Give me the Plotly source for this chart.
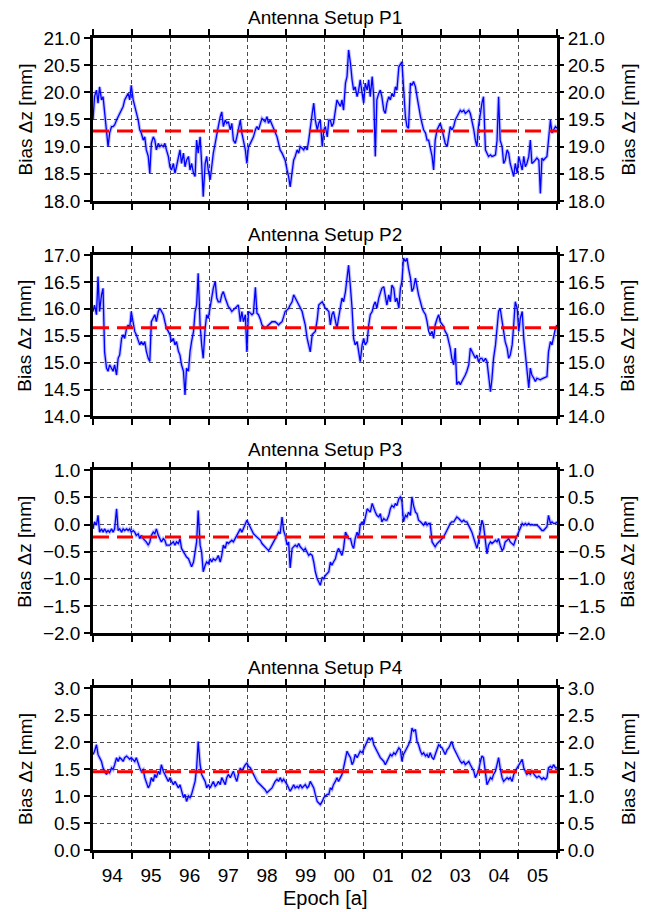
import numpy as np
import pandas as pd
import plotly.graph_objects as go

# Sampling epochs (decimal years): first half and second half of the record
EPOCH_A = [1994.00, 1994.04, 1994.09, 1994.13, 1994.17, 1994.22, 1994.26, 1994.30, 1994.35, 1994.39,
           1994.43, 1994.48, 1994.52, 1994.56, 1994.61, 1994.65, 1994.69, 1994.74, 1994.78, 1994.82,
           1994.87, 1994.91, 1994.95, 1994.99, 1995.04, 1995.08, 1995.12, 1995.17, 1995.21, 1995.25,
           1995.30, 1995.34, 1995.38, 1995.43, 1995.47, 1995.51, 1995.56, 1995.60, 1995.64, 1995.69,
           1995.73, 1995.77, 1995.82, 1995.86, 1995.90, 1995.95, 1995.99, 1996.03, 1996.08, 1996.12,
           1996.16, 1996.21, 1996.25, 1996.29, 1996.34, 1996.38, 1996.42, 1996.47, 1996.51, 1996.55,
           1996.60, 1996.64, 1996.68, 1996.72, 1996.77, 1996.81, 1996.85, 1996.90, 1996.94, 1996.98,
           1997.03, 1997.07, 1997.11, 1997.16, 1997.20, 1997.24, 1997.29, 1997.33, 1997.37, 1997.42,
           1997.46, 1997.50, 1997.55, 1997.59, 1997.63, 1997.68, 1997.72, 1997.76, 1997.81, 1997.85,
           1997.89, 1997.94, 1997.98, 1998.02, 1998.07, 1998.11, 1998.15, 1998.20, 1998.24, 1998.28,
           1998.33, 1998.37, 1998.41, 1998.45, 1998.50, 1998.54, 1998.58, 1998.63, 1998.67, 1998.71,
           1998.76, 1998.80, 1998.84, 1998.89, 1998.93, 1998.97, 1999.02, 1999.06, 1999.10, 1999.15,
           1999.19, 1999.23, 1999.28, 1999.32, 1999.36, 1999.41, 1999.45, 1999.49, 1999.54, 1999.58,
           1999.62, 1999.67, 1999.71, 1999.75, 1999.80, 1999.84, 1999.88, 1999.93, 1999.97, 2000.01,
           2000.06, 2000.10]

EPOCH_B = [2000.14, 2000.18, 2000.22, 2000.27, 2000.31, 2000.35, 2000.40, 2000.44, 2000.48, 2000.53,
           2000.57, 2000.61, 2000.66, 2000.70, 2000.74, 2000.78, 2000.83, 2000.87, 2000.91, 2000.96,
           2001.00, 2001.04, 2001.09, 2001.13, 2001.17, 2001.22, 2001.26, 2001.30, 2001.34, 2001.39,
           2001.43, 2001.47, 2001.52, 2001.56, 2001.60, 2001.65, 2001.69, 2001.73, 2001.78, 2001.82,
           2001.86, 2001.91, 2001.95, 2001.99, 2002.03, 2002.08, 2002.12, 2002.16, 2002.21, 2002.25,
           2002.29, 2002.34, 2002.38, 2002.42, 2002.47, 2002.51, 2002.55, 2002.60, 2002.64, 2002.68,
           2002.72, 2002.77, 2002.81, 2002.85, 2002.90, 2002.94, 2002.98, 2003.03, 2003.07, 2003.11,
           2003.16, 2003.20, 2003.24, 2003.28, 2003.33, 2003.37, 2003.41, 2003.46, 2003.50, 2003.54,
           2003.59, 2003.63, 2003.67, 2003.72, 2003.76, 2003.80, 2003.85, 2003.89, 2003.93, 2003.97,
           2004.02, 2004.06, 2004.10, 2004.15, 2004.19, 2004.23, 2004.28, 2004.32, 2004.36, 2004.41,
           2004.45, 2004.49, 2004.53, 2004.58, 2004.62, 2004.66, 2004.71, 2004.75, 2004.79, 2004.84,
           2004.88, 2004.92, 2004.97, 2005.01, 2005.05, 2005.10, 2005.14, 2005.18, 2005.22, 2005.27,
           2005.31, 2005.35, 2005.40, 2005.44, 2005.48, 2005.53, 2005.57, 2005.61, 2005.65, 2005.70,
           2005.74, 2005.78, 2005.83, 2005.87, 2005.91, 2005.96, 2006.00]

# Bias Δz [mm] per antenna setup
P1_A = [19.50, 19.92, 20.04, 19.80, 20.10, 19.86, 19.92, 19.61, 19.18, 19.00,
        19.25, 19.37, 19.37, 19.40, 19.49, 19.55, 19.61, 19.67, 19.74, 19.86,
        19.92, 19.98, 19.86, 20.13, 19.86, 19.74, 19.67, 19.49, 19.31, 19.25,
        19.12, 19.18, 18.94, 18.82, 18.51, 19.06, 19.18, 19.12, 18.94, 19.06,
        19.00, 19.03, 19.00, 19.06, 18.94, 18.82, 18.63, 18.57, 18.69, 18.51,
        18.63, 18.82, 18.94, 18.69, 18.88, 18.63, 18.75, 18.82, 18.57, 18.69,
        18.51, 18.45, 19.12, 18.88, 19.18, 18.69, 18.08, 18.69, 18.82, 18.57,
        18.39, 18.63, 18.88, 19.06, 19.25, 19.37, 19.55, 19.64, 19.37, 19.49,
        19.43, 19.46, 19.31, 19.43, 19.12, 19.06, 19.18, 19.31, 19.49, 19.25,
        19.12, 18.94, 18.69, 19.00, 19.06, 19.12, 19.18, 19.31, 19.37, 19.31,
        19.43, 19.52, 19.49, 19.46, 19.55, 19.43, 19.49, 19.40, 19.31, 19.25,
        19.18, 19.06, 18.94, 18.88, 18.82, 18.75, 18.57, 18.45, 18.26, 18.57,
        18.75, 18.82, 18.94, 18.88, 19.00, 18.97, 18.94, 19.00, 18.94, 19.12,
        19.37, 19.61, 19.80, 19.49, 19.31, 19.43, 19.49, 19.00, 19.31, 19.37,
        19.18, 19.49]
P1_B = [19.49, 19.37, 19.43, 19.67, 19.86, 19.80, 19.74, 19.86, 19.67, 20.17,
        20.29, 20.78, 20.53, 20.23, 20.04, 20.10, 19.92, 20.04, 20.23, 19.98,
        19.80, 20.17, 20.04, 20.23, 19.92, 20.29, 19.92, 18.82, 19.86, 19.98,
        20.04, 19.92, 19.67, 19.61, 19.80, 19.92, 19.86, 19.98, 19.92, 20.10,
        20.04, 20.47, 20.53, 20.56, 20.10, 19.55, 19.37, 19.34, 20.17, 20.13,
        20.20, 20.10, 19.92, 19.74, 19.55, 19.43, 19.31, 19.25, 19.12, 19.12,
        19.00, 18.82, 18.57, 19.12, 19.31, 19.37, 19.43, 19.31, 19.18, 19.06,
        19.00, 19.18, 19.37, 19.31, 19.37, 19.49, 19.55, 19.61, 19.67, 19.64,
        19.67, 19.61, 19.64, 19.67, 19.61, 19.49, 19.31, 19.12, 19.00, 19.37,
        19.67, 19.80, 19.92, 18.94, 18.88, 18.82, 18.85, 18.82, 18.83, 18.85,
        19.12, 19.92, 19.12, 19.00, 18.69, 18.75, 18.94, 18.88, 18.69, 18.57,
        18.45, 18.69, 18.51, 18.82, 18.69, 18.57, 18.82, 18.63, 18.69, 18.82,
        19.12, 18.69, 18.72, 18.75, 18.79, 18.75, 18.14, 18.79, 18.75, 18.79,
        18.82, 19.12, 19.49, 19.25, 19.31, 19.37, 19.34]

P2_A = [15.95, 16.07, 15.89, 16.60, 15.95, 16.26, 16.38, 15.20, 14.90, 14.84,
        14.96, 14.90, 14.84, 14.96, 14.77, 15.08, 15.14, 15.45, 15.52, 15.45,
        15.64, 15.70, 15.64, 15.95, 15.76, 15.58, 15.52, 15.39, 15.33, 15.39,
        15.33, 15.39, 15.21, 15.08, 15.02, 15.76, 15.82, 15.89, 15.76, 15.95,
        16.01, 15.95, 15.89, 15.76, 15.64, 15.58, 15.52, 15.39, 15.45, 15.33,
        15.39, 15.21, 15.14, 14.96, 14.84, 14.40, 14.90, 14.84, 15.21, 15.39,
        15.58, 15.95, 16.07, 16.66, 15.70, 15.33, 15.08, 15.64, 15.89, 15.82,
        16.07, 16.20, 16.38, 16.51, 16.20, 16.13, 16.13, 16.26, 16.32, 16.20,
        16.13, 16.04, 16.00, 15.95, 15.98, 16.01, 16.04, 16.07, 15.76, 15.95,
        15.76, 15.89, 15.20, 15.95, 15.92, 15.89, 15.92, 16.40, 15.92, 15.89,
        15.80, 15.70, 15.67, 15.64, 15.67, 15.70, 15.73, 15.76, 15.76, 15.76,
        15.73, 15.70, 15.73, 15.76, 15.85, 15.95, 15.98, 16.01, 16.07, 16.13,
        16.26, 16.20, 16.13, 16.07, 16.01, 15.95, 15.82, 15.70, 15.45, 15.33,
        15.20, 15.52, 15.55, 15.58, 15.80, 16.07, 16.10, 16.13, 16.07, 16.01,
        15.98, 15.95]
P2_B = [15.70, 15.89, 15.95, 15.76, 15.64, 15.82, 16.01, 16.20, 16.13, 16.32,
        16.57, 16.81, 16.38, 16.01, 15.45, 15.33, 15.39, 15.21, 15.02, 15.33,
        15.45, 15.33, 15.39, 15.70, 15.89, 15.95, 16.07, 16.13, 16.01, 16.20,
        16.32, 16.38, 16.41, 16.20, 16.07, 16.26, 16.13, 16.44, 16.38, 16.13,
        16.20, 16.01, 16.38, 16.51, 16.94, 16.88, 16.94, 16.75, 16.57, 16.32,
        16.38, 16.57, 16.38, 16.26, 16.13, 16.01, 15.95, 15.89, 15.76, 15.58,
        15.52, 15.58, 15.45, 15.70, 15.82, 15.89, 15.76, 15.70, 15.67, 15.58,
        15.52, 15.39, 15.27, 15.08, 14.96, 15.27, 14.59, 14.65, 14.59, 14.65,
        14.71, 14.77, 14.84, 14.96, 15.27, 15.21, 15.14, 15.08, 15.14, 15.02,
        15.08, 15.08, 15.02, 15.08, 15.02, 14.77, 14.46, 14.71, 15.08, 15.33,
        15.64, 15.95, 16.01, 15.76, 15.52, 15.39, 15.27, 15.08, 15.14, 15.33,
        15.70, 16.13, 16.01, 15.58, 15.82, 15.95, 15.45, 15.14, 14.84, 14.53,
        14.90, 14.77, 14.71, 14.65, 14.71, 14.70, 14.68, 14.70, 14.71, 14.72,
        14.74, 15.20, 15.39, 15.33, 15.45, 15.64, 15.70]

P3_A = [-0.08, 0.05, -0.01, 0.17, -0.14, -0.08, -0.14, -0.08, -0.14, -0.11,
        -0.14, -0.08, -0.14, -0.08, 0.29, -0.11, -0.08, -0.14, -0.08, -0.11,
        -0.08, -0.11, -0.08, -0.14, -0.11, -0.14, -0.20, -0.17, -0.26, -0.20,
        -0.26, -0.29, -0.32, -0.38, -0.32, -0.20, -0.14, -0.17, -0.08, -0.20,
        -0.26, -0.32, -0.26, -0.29, -0.38, -0.38, -0.38, -0.35, -0.32, -0.38,
        -0.32, -0.35, -0.26, -0.44, -0.51, -0.57, -0.60, -0.63, -0.69, -0.78,
        -0.69, -0.51, -0.32, 0.26, -0.38, -0.51, -0.87, -0.75, -0.69, -0.72,
        -0.63, -0.69, -0.63, -0.66, -0.63, -0.57, -0.69, -0.57, -0.38, -0.44,
        -0.32, -0.35, -0.32, -0.29, -0.32, -0.26, -0.20, -0.14, -0.08, -0.14,
        -0.08, -0.01, 0.08, 0.02, -0.04, -0.11, -0.17, -0.20, -0.23, -0.26,
        -0.29, -0.35, -0.38, -0.41, -0.44, -0.48, -0.44, -0.38, -0.32, -0.26,
        -0.20, -0.14, -0.17, 0.14, -0.11, -0.20, -0.38, -0.32, -0.80, -0.44,
        -0.41, -0.38, -0.41, -0.35, -0.41, -0.44, -0.48, -0.44, -0.51, -0.57,
        -0.54, -0.57, -0.69, -0.87, -1.00, -1.06, -1.12, -0.97, -1.00, -0.94,
        -0.91, -0.87]
P3_B = [-0.69, -0.75, -0.69, -0.63, -0.51, -0.44, -0.51, -0.57, -0.44, -0.14,
        -0.20, -0.26, -0.26, -0.38, -0.44, -0.26, -0.14, -0.23, -0.01, 0.05,
        -0.01, 0.11, 0.29, 0.26, 0.23, 0.39, 0.29, 0.23, 0.17, 0.14,
        0.20, 0.05, 0.11, 0.08, 0.08, 0.17, 0.29, 0.35, 0.32, 0.39,
        0.35, 0.48, 0.51, 0.42, 0.05, 0.17, 0.14, 0.23, 0.17, 0.51,
        0.35, 0.23, 0.20, 0.08, 0.05, 0.02, -0.01, 0.05, -0.01, 0.02,
        0.02, -0.32, -0.38, -0.41, -0.35, -0.32, -0.29, -0.26, -0.23, -0.17,
        -0.11, -0.04, 0.02, 0.05, 0.05, 0.11, 0.14, 0.11, 0.08, 0.05,
        0.08, 0.05, 0.05, -0.01, -0.08, -0.14, -0.26, -0.38, -0.44, -0.32,
        -0.08, 0.08, -0.01, -0.26, -0.54, -0.38, -0.32, -0.35, -0.32, -0.29,
        -0.32, -0.26, -0.38, -0.48, -0.44, -0.32, -0.29, -0.26, -0.32, -0.35,
        -0.38, -0.29, -0.20, -0.14, -0.08, 0.02, -0.01, 0.02, -0.01, 0.02,
        -0.01, 0.00, -0.01, -0.01, -0.01, -0.04, -0.08, -0.11, -0.11, -0.08,
        -0.04, 0.17, 0.02, 0.05, 0.02, 0.02, 0.05]

P4_A = [1.77, 1.83, 1.95, 1.77, 1.71, 1.64, 1.52, 1.46, 1.40, 1.46,
        1.43, 1.52, 1.49, 1.58, 1.71, 1.64, 1.71, 1.68, 1.64, 1.71,
        1.74, 1.71, 1.68, 1.71, 1.68, 1.64, 1.71, 1.58, 1.52, 1.46,
        1.49, 1.34, 1.27, 1.15, 1.21, 1.34, 1.27, 1.40, 1.34, 1.46,
        1.40, 1.58, 1.46, 1.40, 1.34, 1.27, 1.34, 1.27, 1.21, 1.27,
        1.21, 1.15, 1.21, 1.09, 0.97, 1.03, 0.90, 1.00, 0.97, 1.03,
        1.15, 1.27, 1.52, 2.01, 1.58, 1.40, 1.34, 1.27, 1.15, 1.21,
        1.15, 1.21, 1.27, 1.18, 1.21, 1.27, 1.21, 1.34, 1.27, 1.21,
        1.34, 1.40, 1.34, 1.40, 1.46, 1.34, 1.27, 1.40, 1.52, 1.46,
        1.52, 1.58, 1.61, 1.55, 1.52, 1.46, 1.40, 1.34, 1.27, 1.24,
        1.21, 1.18, 1.15, 1.12, 1.06, 1.09, 1.12, 1.15, 1.21, 1.27,
        1.31, 1.27, 1.34, 1.27, 1.31, 1.27, 1.21, 1.15, 1.09, 1.15,
        1.21, 1.15, 1.18, 1.15, 1.21, 1.15, 1.18, 1.21, 1.15, 1.18,
        1.27, 1.21, 1.15, 1.03, 0.90, 0.87, 0.84, 0.90, 0.97, 1.00,
        1.03, 1.03]
P4_B = [1.15, 1.12, 1.21, 1.27, 1.34, 1.27, 1.34, 1.40, 1.52, 1.71,
        1.83, 1.77, 1.71, 1.58, 1.64, 1.77, 1.71, 1.77, 1.83, 1.80,
        1.86, 1.95, 2.01, 2.08, 2.04, 2.08, 1.95, 1.89, 1.83, 1.77,
        1.71, 1.68, 1.64, 1.58, 1.64, 1.71, 1.77, 1.74, 1.80, 1.77,
        1.83, 1.89, 1.86, 1.64, 1.77, 1.83, 1.89, 1.95, 2.04, 2.26,
        2.20, 2.23, 2.01, 1.95, 1.83, 1.77, 1.80, 1.74, 1.77, 1.71,
        1.80, 1.71, 1.68, 1.77, 1.89, 1.95, 1.92, 1.89, 1.83, 1.77,
        1.86, 1.89, 1.95, 2.01, 1.89, 1.83, 1.77, 1.71, 1.64, 1.61,
        1.64, 1.58, 1.61, 1.64, 1.58, 1.52, 1.46, 1.34, 1.40, 1.46,
        1.64, 1.74, 1.71, 1.40, 1.21, 1.27, 1.34, 1.31, 1.40, 1.46,
        1.58, 1.71, 1.52, 1.34, 1.27, 1.31, 1.34, 1.31, 1.34, 1.27,
        1.40, 1.46, 1.52, 1.58, 1.64, 1.68, 1.52, 1.46, 1.40, 1.43,
        1.40, 1.46, 1.40, 1.37, 1.34, 1.37, 1.34, 1.31, 1.34, 1.31,
        1.34, 1.52, 1.55, 1.52, 1.58, 1.52, 1.52]

# Mean bias of each setup (dashed reference line)
MEANS = [19.29, 15.65, -0.23, 1.45]
TITLES = ["Antenna Setup P1", "Antenna Setup P2", "Antenna Setup P3", "Antenna Setup P4"]
Y_RANGES = [(18.0, 21.0), (14.0, 17.0), (-2.0, 1.0), (0.0, 3.0)]
SERIES = [P1_A + P1_B, P2_A + P2_B, P3_A + P3_B, P4_A + P4_B]
EPOCHS = EPOCH_A + EPOCH_B

for s in SERIES:
    assert len(s) == len(EPOCHS), (len(s), len(EPOCHS))


def to_date(y):
    year = int(np.floor(y + 1e-9))
    start = pd.Timestamp(year=year, month=1, day=1)
    end = pd.Timestamp(year=year + 1, month=1, day=1)
    return start + (end - start) * (y - year)


dates = [to_date(e) for e in EPOCHS]
X_RANGE = ["1994-01-01", "2006-01-01"]

FONT = "Liberation Sans, Arial, Helvetica, sans-serif"
DOMAINS = [(0.7993, 1.0), (0.5339, 0.7328), (0.2672, 0.4676), (0.0, 0.1995)]
YLABEL = "Bias \u0394z [mm]"

fig = go.Figure()
layout = dict(
    width=656, height=912,
    margin=dict(l=93, r=99, t=38, b=62),
    paper_bgcolor="white", plot_bgcolor="white",
    showlegend=False,
    font=dict(family=FONT, size=19, color="black"),
    annotations=[],
)

for i in range(4):
    n = i + 1
    xa = "x" if n == 1 else f"x{n}"
    ya = "y" if n == 1 else f"y{n}"
    yr = f"y{n + 4}"

    fig.add_trace(go.Scatter(
        x=dates, y=SERIES[i], xaxis=xa, yaxis=ya, mode="lines",
        line=dict(color="rgba(0,0,255,0.25)", width=3.5), hoverinfo="skip"))
    fig.add_trace(go.Scatter(
        x=dates, y=SERIES[i], xaxis=xa, yaxis=ya, mode="lines",
        line=dict(color="#0000ff", width=1.3)))
    fig.add_trace(go.Scatter(
        x=X_RANGE, y=[MEANS[i], MEANS[i]], xaxis=xa, yaxis=yr, mode="lines",
        line=dict(color="#ff0000", width=3, dash="16px,8px")))

    layout[f"xaxis{'' if n == 1 else n}"] = dict(
        domain=[0, 1], anchor=ya, type="date", range=X_RANGE, automargin=False,
        tick0="1994-01-01", dtick="M12", tickformat="%y", ticklabelmode="period",
        showticklabels=(n == 4), ticks="outside", ticklen=6, tickwidth=1.5,
        tickcolor="black", showline=True, linewidth=2.5, linecolor="black",
        mirror="ticks", showgrid=True, gridcolor="#4a4a4a", gridwidth=1,
        griddash="4px,3px", zeroline=False,
        tickfont=dict(family=FONT, size=19),
    )
    layout[f"yaxis{'' if n == 1 else n}"] = dict(
        domain=list(DOMAINS[i]), anchor=xa, range=list(Y_RANGES[i]), automargin=False,
        dtick=0.5, tickformat=".1f", ticks="outside", ticklen=6, tickwidth=1.5,
        tickcolor="black", showline=True, linewidth=2.5, linecolor="black",
        mirror=True, showgrid=True, gridcolor="#4a4a4a", gridwidth=1,
        griddash="4px,3px", zeroline=False,
        tickfont=dict(family=FONT, size=19),
    )
    layout[f"yaxis{n + 4}"] = dict(
        overlaying=ya, side="right", anchor=xa, range=list(Y_RANGES[i]), automargin=False,
        dtick=0.5, tickformat=".1f", ticks="outside", ticklen=6, tickwidth=1.5,
        tickcolor="black", showline=False, showgrid=False, zeroline=False,
        tickfont=dict(family=FONT, size=19),
    )
    mid = 0.5 * (DOMAINS[i][0] + DOMAINS[i][1])
    # panel title
    layout["annotations"].append(dict(
        text=TITLES[i], x=0.5, y=DOMAINS[i][1], xref="paper", yref="paper",
        xanchor="center", yanchor="bottom", yshift=8, showarrow=False,
        font=dict(family=FONT, size=19, color="black")))
    # y-axis titles on both sides, at a fixed distance from the frame
    layout["annotations"].append(dict(
        text=YLABEL, x=0, y=mid, xref="paper", yref="paper", textangle=-90,
        xanchor="center", yanchor="middle", xshift=-68, showarrow=False,
        font=dict(family=FONT, size=19, color="black")))
    layout["annotations"].append(dict(
        text=YLABEL, x=1, y=mid, xref="paper", yref="paper", textangle=-90,
        xanchor="center", yanchor="middle", xshift=71, showarrow=False,
        font=dict(family=FONT, size=19, color="black")))

# x-axis title below the bottom panel
layout["annotations"].append(dict(
    text="Epoch [a]", x=0.5, y=0, xref="paper", yref="paper",
    xanchor="center", yanchor="middle", yshift=-48, showarrow=False,
    font=dict(family=FONT, size=20, color="black")))

fig.update_layout(**layout)
fig.write_html("out.html")
